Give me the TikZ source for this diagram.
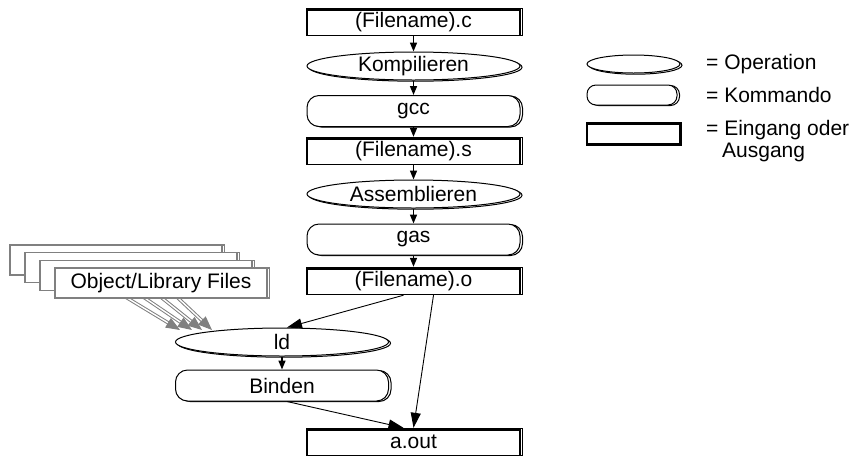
\documentclass[tikz,border=0pt]{standalone}
\usepackage{fontspec}
\setmainfont{Liberation Sans}
\usetikzlibrary{shapes.geometric, shadows, arrows.meta, calc}
\begin{document}
\begin{tikzpicture}[x=1pt, y=-1pt,
  base/.style={font=\fontsize{21}{25}\selectfont, inner sep=0pt, align=center, fill=white},
  io/.style={base, rectangle, draw, line width=1.4pt, minimum width=213pt, minimum height=27pt,
    copy shadow={shadow xshift=2.5pt, shadow yshift=0pt},
    path picture={\draw[line width=4pt] (path picture bounding box.north west) -- (path picture bounding box.north east);}},
  op/.style={base, ellipse, draw, line width=1pt, minimum width=213pt, minimum height=28pt,
    copy shadow={shadow xshift=2pt, shadow yshift=-1.2pt}},
  cmd/.style={base, rectangle, rounded corners=12pt, draw, line width=1pt, minimum width=213pt, minimum height=31pt,
    copy shadow={shadow xshift=2.5pt, shadow yshift=-0.5pt}},
  objb/.style={base, rectangle, draw=gray, line width=1.5pt, minimum width=212pt, minimum height=30pt,
    copy shadow={shadow xshift=2.5pt, shadow yshift=0pt}},
  smallarr/.style={-{Triangle[length=9pt,width=7pt]}, line width=1.6pt},
  bigarr/.style={-{Triangle[length=15pt,width=10pt]}, line width=0.9pt},
  grayarr/.style={draw=gray, double=white, double distance=1.4pt, line width=1pt,
    -{Triangle[length=14pt,width=11pt]}},
  lbl/.style={font=\fontsize{21}{25}\selectfont, inner sep=0pt, anchor=west}
]
\useasboundingbox (0,0) rectangle (859,456);

% main column
\node[io]  (fc)   at (413.5,22)    {(Filename).c};
\node[op]  (komp) at (413.5,66)    {Kompilieren};
\node[cmd] (gcc)  at (413.5,111)   {gcc};
\node[io]  (fs)   at (413.5,151)   {(Filename).s};
\node[op]  (asm)  at (413.5,194)   {Assemblieren};
\node[cmd] (gas)  at (413.5,239.5) {gas};
\node[io]  (fo)   at (413.5,281)   {(Filename).o};
\node[io]  (aout) at (413.5,442)   {a.out};

\draw[smallarr] (fc.south)   -- (komp.north);
\draw[smallarr] (komp.south) -- (gcc.north);
\draw[smallarr] (gcc.south)  -- (fs.north);
\draw[smallarr] (fs.south)   -- (asm.north);
\draw[smallarr] (asm.south)  -- (gas.north);
\draw[smallarr] (gas.south)  -- (fo.north);

% gray arrows (behind the object boxes)
\coordinate (s0) at (114,290);   \coordinate (e0) at (180,330);
\coordinate (s1) at (133,290);   \coordinate (e1) at (192,330);
\coordinate (s2) at (152,290);   \coordinate (e2) at (202,330);
\coordinate (s3) at (169.5,290); \coordinate (e3) at (212,330);
\foreach \k in {0,1,2,3} {\draw[grayarr] (s\k) -- (e\k);}

% object/library file stack
\node[objb] (ob0) at (116,260)    {};
\node[objb] (ob1) at (131,267.7)  {};
\node[objb] (ob2) at (146,275.3)  {};
\node[objb] (ob3) at (161,283)    {Object/Library Files};

% linking
\node[op]  (ld)   at (282,342)   {ld};
\node[cmd] (bind) at (282,385.5) {Binden};

\draw[smallarr] (ld.south) -- (bind.north);
\draw[bigarr] ($(fo.south)+(-10,0)$) -- ($(ld.north)+(5,0)$);
\draw[bigarr] ($(fo.south)+(20,0)$) -- (aout.north);
\draw[bigarr] ($(bind.south)+(5,0)$) -- ($(aout.north)+(-10,0)$);

% legend
\node[op, minimum width=93pt, minimum height=18pt] (lop) at (633.5,64) {};
\node[cmd, minimum width=90pt, minimum height=20pt, rounded corners=9pt] (lcmd) at (632,95) {};
\node[rectangle, draw, line width=2.2pt, minimum width=93pt, minimum height=21pt, inner sep=0pt,
  copy shadow={shadow xshift=1.2pt, shadow yshift=0pt}, fill=white] (lio) at (633.5,134) {};
\node[lbl] (t1) at (706,64)  {= Operation};
\node[lbl] (t2) at (706,95)  {= Kommando};
\node[lbl] (t3) at (706,130) {= Eingang oder};
\node[lbl] (t4) at (722,152) {Ausgang};
\end{tikzpicture}
\end{document}
